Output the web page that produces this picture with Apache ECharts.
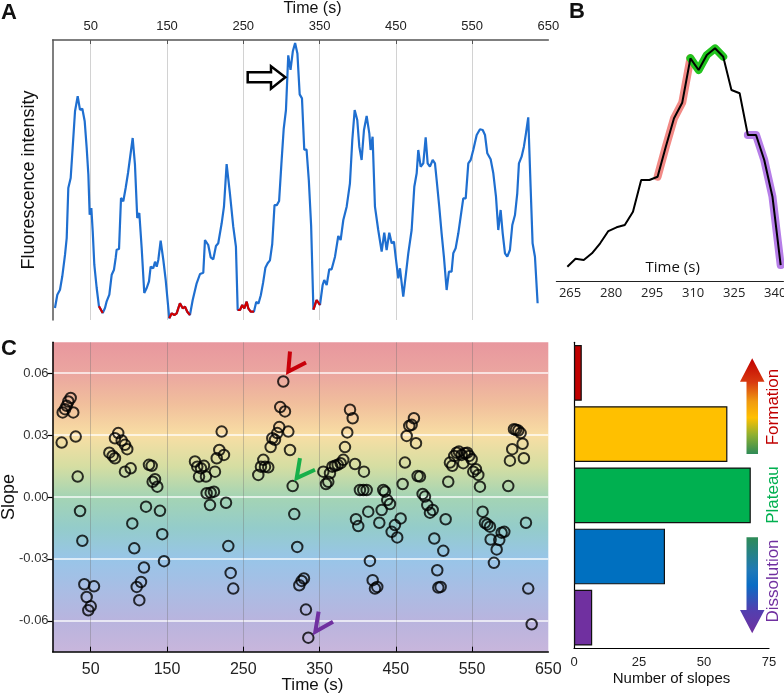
<!DOCTYPE html>
<html><head><meta charset="utf-8">
<script src="https://cdn.jsdelivr.net/npm/echarts@6/dist/echarts.min.js"></script>
<style>html,body{margin:0;padding:0;background:#fff}#c{width:784px;height:695px}</style>
</head><body><div id="c"></div>
<script>
// ---------- DATA ----------
const traceTime = [
3.1,6.2,9.7,12.7,16.3,18.5,20.6,23.7,26.3,29.4,32.9,35.9,39,42.1,44.7,46.9,48.6,50.8,52.6,54.7,57.8,60.8,63,65.7,68.7,70.9,74.4,77.5,80.5,82.7,84,87.1,89.7,92.7,95.8,98.9,101.5,105,108,111,113.7,116.8,120.2,123.4,126.4,
128.6,132,134.3,136.5,138.6,141.7,145.2,148.3,153,156.2,159.6,162.7,164.8,167,170.6,173.6,176.6,180.1,183.7,188.9,193.3,197.6,199.8,204.1,207.3,210.7,214.2,217.2,221.7,224.7,228.2,232.5,236.9,240.4,242.7,245.7,248.7,251.4,254.5,256.6,259.7,
264,267,270,273,276,279,282,285,288,291,294,297,300,303,306,309,312,315,318,321,324,327,330,333,336,339,342,
346.2,350.6,354.1,356.2,359.4,362.8,365.9,370.3,374.6,377.7,381.2,385.6,389.9,393,396.1,399.5,402.2,405.2,408.3,411.8,
415.3,417,419.6,422.7,427,431.5,434.9,438,441.5,444.6,447.6,449.8,453.3,455.5,459.8,463.4,466.4,470.8,474.3,477.4,
479.5,482.6,486.1,489.2,491.8,494.8,498.4,501.4,503.6,507,510.1,513.1,516.7,519.7,523.2,525.4,528.5,532,535.1,538.5,
541.7,545.1,548.2,551.6,556.1,560.4,564,567,570,574.4,577.9,581.4,584.4,587.5,590.2,593.2,596.2,599.7,602.8,606.3,
609.3,611.5,615,618,620.7,623.7,626.8,629.4,632.5,636];
const traceIntensity = [
12,25.3,30.3,43.7,65.3,82,132,142,172,208.7,223.7,210.3,211.3,198.7,172,145.3,105.3,112,88.7,55.3,32,13.7,13.7,7,12,18.7,25.3,45.3,50.3,62,70.3,71,122,118.7,132,147,145.3,182,155.3,102,107,72,27,32,38.7,
53.3,51.7,58.3,53.3,60,79.3,60,40,1.7,6.7,5,6.7,11.7,16.7,11.7,13.3,8.3,5,20,36.7,46,47.3,80,75,62.7,60.7,74,76.7,96.7,113.3,156,126.7,93.3,73.3,10,10,15,11.7,18.3,11.7,8.3,
8.3,18.1,16.5,24.8,37.1,52.2,56.8,59.6,76,114.9,114.9,119,155.9,190.8,210,264.6,250.2,268.7,276.9,266.6,225.6,221.6,170.3,170.3,139.5,94.4,10.4,
20,15,35,40,35,50.7,50.7,63.3,84,80,100,113.3,136.7,180,210,200,173.3,160,190,204,
186.7,170,183.3,113.3,90,68.3,87.3,70,87.3,76.7,78.3,63.3,41.7,51.7,23.3,46.7,66.7,90,133.3,146.7,
170,153.3,156.7,182.7,156.7,153.3,160,156.7,140,113.3,86.7,63.3,30,48.3,48.3,66.7,71.7,86.7,103.3,121.7,
121.7,156.7,160,170,185,190.7,190,185,166.7,160.7,146.7,123.3,90,110,86.7,66.7,63.3,70,95,105,
126.7,156.7,163.3,173.3,186.7,202.7,133.3,76.7,63.3,16.7];
// baseline (red) stretches of the trace, in seconds
const baselineRanges = [[60,66],[153,181],[242,264],[342,351]];
// panel B window and phases
const zoomWindow = [263, 343];
const phaseRanges = [[297,309],[309,321],[330,342]];
const phaseColors = ['#f28a86','#22c41e','#b67ee8'];

const slopeTime = [11.9,13.2,16.3,18.5,20.6,23.7,27.1,30.3,32.9,36,39,41.6,44.7,46.8,50,54.3,
74.4,78.8,81.8,81.8,86.1,90.6,94.9,97.9,94.9,102.4,104.5,107.1,110.3,113.7,115.9,119.8,122.5,126.4,129.9,131.2,134.3,137.3,140.8,143.8,146.1,
186.7,189.7,192,194.6,198.5,201.1,202,206.4,207.3,211.6,212.9,215.2,218.6,221.7,224.7,227.4,230.4,233.5,236.9,
269.7,273.2,276.3,278.5,282.8,285.9,288.1,291.6,294.6,297.2,298.5,302.5,304.7,309.1,311.3,314.8,316.9,320.8,323.5,326.6,329.6,332.2,335.3,
355,358.5,361.5,363.7,366.8,370.3,373.8,377.7,381.2,383.4,386.4,390,393.5,396.5,397.8,400.8,403,408.3,407.4,411.8,413.9,416.1,419.7,422.7,425.7,428.4,431.5,433.6,435.8,438.8,442.4,444.6,448.9,451.9,456.4,459,
462,464.3,467.7,470.8,473.8,476.5,478.7,481.7,485.2,488.3,491.3,494.8,498.4,500.5,504.4,505.8,508.8,512.3,515.4,518.8,521,524.1,526.7,529.8,532.8,536.3,
538.5,540.7,543.7,546.3,549.5,551.6,555.1,558.2,560.4,563.9,566.9,570,573.5,574.4,578.7,582.3,585.7,588.8,592.3,597.5,599.7,602.7,605,607.6,610.6,613.7,
616.3,618,620.7,623.7,628.2];
const slopeValue = [0.0264,0.041,0.0426,0.0442,0.0463,0.048,0.041,0.0293,0.0099,-0.0068,-0.0212,-0.0423,-0.0485,-0.0549,-0.053,-0.0433,
0.0215,0.0199,0.0188,0.0285,0.031,0.0274,0.0253,0.0232,0.0123,0.0139,-0.0128,-0.0249,-0.0436,-0.05,-0.0412,-0.0342,-0.0047,0.0156,0.0151,0.0074,0.0086,0.005,-0.0067,-0.018,-0.0311,
0.0172,0.0147,0.0099,0.0139,0.0151,0.0099,0.0018,-0.0039,0.0021,0.0026,0.0123,0.0188,0.0228,0.0317,0.0204,-0.0028,-0.0238,-0.0368,-0.0444,
0.0107,0.0147,0.018,0.0147,0.0144,0.0242,0.0285,0.0277,0.031,0.0339,0.0436,0.056,0.0415,0.0317,0.0228,0.0053,-0.0083,-0.0242,-0.0428,-0.0407,-0.0395,-0.0546,-0.0682,
0.0123,0.0063,0.0074,0.0115,0.0147,0.0151,0.0156,0.0164,0.018,0.0242,0.0313,0.0423,0.0382,0.016,-0.0108,-0.0141,0.0034,0.0123,0.0034,0.0034,-0.0071,-0.031,-0.0403,-0.0444,-0.0436,-0.0125,-0.0063,0.0034,0.0026,-0.0015,-0.0034,-0.0169,-0.0136,-0.0196,-0.0104,0.0063,
0.0167,0.0296,0.0345,0.035,0.0382,0.0261,0.0102,0.0099,0.0015,0.0002,-0.0039,-0.0076,-0.0063,-0.0201,-0.0355,-0.0439,-0.0436,-0.0261,-0.0108,0.0074,0.0167,0.0151,0.0199,0.0215,0.022,0.0204,
0.0164,0.0212,0.0215,0.0199,0.0183,0.0123,0.0135,0.0107,0.005,-0.0071,-0.0125,-0.0133,-0.0144,-0.0206,-0.0319,-0.0254,-0.0209,-0.0173,-0.0169,0.0053,0.0176,0.0232,0.0329,0.0326,0.0322,0.031,
0.0258,0.0188,-0.0125,-0.0444,-0.0617];
// marked slopes in panel C (formation, plateau, dissolution)
const markedTimes = [302.5, 314.8, 335.3];
const markedColors = ['#c8000a','#17b04a','#7030a0'];

const binLabels = ['0.06','0.03','0.00','-0.03','-0.06'];
const binCounts = [3, 59, 68, 35, 7];
const binColors = ['#c00000','#ffc000','#00b050','#0070c0','#7030a0'];

const timeTicks = [50,150,250,350,450,550];
const timeLabels = [50,150,250,350,450,550,650];
const zoomTicks = [265,280,295,310,325,340];
const slopeTicks = [-0.06,-0.03,0,0.03,0.06];

// ---------- BUILD ----------
const pairs = (a,b) => { const o=[]; for (let i=0;i<traceTime.length;i++){ if(traceTime[i]>=a && traceTime[i]<=b) o.push([traceTime[i],traceIntensity[i]]);} return o; };
const SANS = 'Liberation Sans, Arial, sans-serif';
const SEG = 'Open Sans, Noto Sans, sans-serif';

const series = [];
series.push({type:'line', xAxisIndex:0, yAxisIndex:0, data: pairs(0,700), symbol:'none', lineStyle:{color:'#1f6fd0', width:2.2}, z:3});
baselineRanges.forEach(r => series.push({type:'line', xAxisIndex:0, yAxisIndex:0, data: pairs(r[0],r[1]), symbol:'none', lineStyle:{color:'#d10000', width:2.2}, z:4}));
phaseRanges.forEach((r,k) => series.push({type:'line', xAxisIndex:1, yAxisIndex:1, data: pairs(r[0],r[1]), symbol:'none', lineStyle:{color:phaseColors[k], width:8, cap:'round', join:'round'}, z:3}));
series.push({type:'line', xAxisIndex:1, yAxisIndex:1, data: pairs(zoomWindow[0],zoomWindow[1]), symbol:'none', lineStyle:{color:'#000', width:2}, z:5});
const scatterIndex = series.length;
series.push({type:'scatter', xAxisIndex:2, yAxisIndex:2, data: slopeTime.map((t,i)=>[t,slopeValue[i]]), symbol:'circle', symbolSize:10.5,
  itemStyle:{color:'rgba(0,0,0,0)', borderColor:'#000', borderWidth:2}, z:5});
series.push({type:'bar', xAxisIndex:3, yAxisIndex:3, data: binCounts.map((v,i)=>({value:v, itemStyle:{color:binColors[i]}})),
  barCategoryGap:'9%', itemStyle:{borderColor:'#111', borderWidth:1.2}, z:3});

const bg = {type:'linear', x:0, y:0, x2:0, y2:1, colorStops:[
  {offset:0, color:'#e8979e'},{offset:0.1, color:'#eba6a0'},{offset:0.2, color:'#f1bf9c'},{offset:0.3, color:'#f8dea4'},
  {offset:0.4, color:'#d6dea2'},{offset:0.5, color:'#a4d4b4'},{offset:0.6, color:'#94ccca'},{offset:0.7, color:'#98c5e8'},
  {offset:0.8, color:'#a9bde4'},{offset:0.9, color:'#b9b4de'},{offset:1, color:'#c8b6dc'}]};

const option = {
  animation:false,
  backgroundColor:'#fff',
  grid:[
    {left:52.6, top:40, width:495.7, height:280, outerBoundsMode:'none'},
    {left:556.4, top:45.8, width:227, height:235, outerBoundsMode:'none'},
    {left:52.6, top:342.3, width:495.7, height:309.4, show:true, backgroundColor:bg, borderWidth:0, outerBoundsMode:'none'},
    {left:574, top:342.3, width:195, height:306, outerBoundsMode:'none'}
  ],
  xAxis:[
    {gridIndex:0, type:'value', min:0, max:650, position:'top', nameMoveOverlap:false,
      axisLine:{show:true, onZero:false, lineStyle:{color:'#555', width:1.5}},
      axisTick:{show:true, inside:true, length:4, customValues:timeTicks, lineStyle:{color:'#555'}},
      axisLabel:{customValues:timeLabels, fontSize:13, color:'#222', fontFamily:SANS, margin:7},
      splitLine:{show:true, lineStyle:{color:'#d2d2d2', width:1}},
      name:'Time (s)', nameLocation:'middle', nameGap:23, nameTextStyle:{fontSize:16, color:'#111', fontFamily:SANS, padding:[0,0,0,24]}},
    {gridIndex:1, type:'value', min:260, max:343,
      axisLine:{show:true, onZero:false, lineStyle:{color:'#222', width:1.2}},
      axisTick:{show:false, customValues:zoomTicks},
      axisLabel:{customValues:zoomTicks, fontSize:13, color:'#222', fontFamily:SEG, margin:6},
      splitLine:{show:false}},
    {gridIndex:2, type:'value', min:0, max:650, nameMoveOverlap:false,
      axisLine:{show:true, onZero:false, lineStyle:{color:'#000', width:1.5}},
      axisTick:{show:true, inside:true, length:5, customValues:timeTicks, lineStyle:{color:'#000'}},
      axisLabel:{customValues:timeLabels, fontSize:16, color:'#222', fontFamily:SANS, margin:10},
      splitLine:{show:true, lineStyle:{color:'rgba(110,110,110,0.35)', width:1}},
      name:'Time (s)', nameLocation:'middle', nameGap:25, nameTextStyle:{fontSize:17, color:'#111', fontFamily:SANS, padding:[0,0,0,24]}},
    {gridIndex:3, type:'value', min:0, max:75, interval:25, nameMoveOverlap:false,
      axisLine:{show:true, onZero:false, lineStyle:{color:'#000', width:1.2}},
      axisTick:{show:false},
      axisLabel:{fontSize:13, color:'#222', fontFamily:SANS, margin:8},
      splitLine:{show:false},
      name:'Number of slopes', nameLocation:'middle', nameGap:23, nameTextStyle:{fontSize:15, color:'#111', fontFamily:SANS}}
  ],
  yAxis:[
    {gridIndex:0, type:'value', min:0, max:280, nameMoveOverlap:false,
      axisLine:{show:true, onZero:false, lineStyle:{color:'#555', width:1.5}}, axisTick:{show:false}, axisLabel:{show:false}, splitLine:{show:false},
      name:'Fluorescence intensity', nameLocation:'middle', nameGap:15, nameTextStyle:{fontSize:18, color:'#111', fontFamily:SANS}},
    {gridIndex:1, type:'value', min:-9, max:280, show:false},
    {gridIndex:2, type:'value', min:-0.075, max:0.075, nameMoveOverlap:false,
      axisLine:{show:true, onZero:false, lineStyle:{color:'#000', width:1.5}},
      axisTick:{show:true, length:5, customValues:slopeTicks, lineStyle:{color:'#000', width:1.2}},
      axisLabel:{customValues:slopeTicks, formatter:v=>v.toFixed(2), fontSize:13, color:'#333', fontFamily:SANS, margin:4},
      splitLine:{show:true, lineStyle:{color:'rgba(255,255,255,0.9)', width:1.5}},
      name:'Slope', nameLocation:'middle', nameGap:35, nameTextStyle:{fontSize:18, color:'#111', fontFamily:SANS}},
    {gridIndex:3, type:'category', data:binLabels, inverse:true,
      axisLine:{show:true, onZero:false, lineStyle:{color:'#000', width:1.2}},
      axisTick:{show:true, inside:true, length:4, alignWithLabel:true, lineStyle:{color:'#000'}},
      axisLabel:{show:false}, splitLine:{show:false}}
  ],
  series: series,
  graphic:{elements:[
    {id:'lA', type:'text', left:1, top:2, style:{text:'A', font:'bold 22px '+SANS, fill:'#111'}},
    {id:'lB', type:'text', left:569, top:1, style:{text:'B', font:'bold 22px '+SANS, fill:'#111'}},
    {id:'lC', type:'text', left:1, top:338, style:{text:'C', font:'bold 22px '+SANS, fill:'#111'}},
    {id:'bT', type:'text', x:672.7, y:268, style:{text:'Time (s)', font:'15px '+SEG, fill:'#111', textAlign:'center', textVerticalAlign:'middle'}},
    {id:'arrA', type:'polygon', shape:{points:[[247.7,72.3],[271,72.3],[271,66.3],[285.3,77.3],[271,88.7],[271,82.3],[247.7,82.3]]},
      style:{fill:'#fff', stroke:'#000', lineWidth:2.5}, z:10},
    {id:'arrF', type:'polygon', shape:{points:[[746.5,454],[758,454],[758,381.7],[764.5,381.7],[752.2,358.3],[740,381.7],[746.5,381.7]]},
      style:{fill:{type:'linear', x:0, y:0, x2:0, y2:1, colorStops:[{offset:0,color:'#c00000'},{offset:0.25,color:'#d83a10'},{offset:0.45,color:'#f09a10'},{offset:0.62,color:'#ffc000'},{offset:0.8,color:'#8fb030'},{offset:1,color:'#2e8b57'}]}}},
    {id:'arrD', type:'polygon', shape:{points:[[746.5,537.3],[758,537.3],[758,610],[764.5,610],[752.2,633.3],[740,610],[746.5,610]]},
      style:{fill:{type:'linear', x:0, y:0, x2:0, y2:1, colorStops:[{offset:0,color:'#2e8b57'},{offset:0.35,color:'#1e78b8'},{offset:0.5,color:'#0a6cc4'},{offset:0.75,color:'#5040b0'},{offset:1,color:'#7030a0'}]}}},
    {id:'tF', type:'text', x:773, y:407, rotation:Math.PI/2, style:{text:'Formation', font:'17px '+SANS, fill:'#c00000', textAlign:'center', textVerticalAlign:'middle'}},
    {id:'tP', type:'text', x:773, y:495, rotation:Math.PI/2, style:{text:'Plateau', font:'17px '+SANS, fill:'#00b050', textAlign:'center', textVerticalAlign:'middle'}},
    {id:'tD', type:'text', x:773, y:581, rotation:Math.PI/2, style:{text:'Dissolution', font:'17px '+SANS, fill:'#7030a0', textAlign:'center', textVerticalAlign:'middle'}}
  ]}
};

const chart = echarts.init(document.getElementById('c'), null, {renderer:'canvas'});
chart.setOption(option);

// chevrons pointing at the marked slopes
const tipOff = [[5,-10],[4,-8],[7,-6]];
const armA = [[1.7,-20],[3.3,-20],[3.3,-20]];
const armB = [[17.7,-9],[18.3,-8.3],[17.7,-10]];
const chev = markedTimes.map((t,k) => {
  const i = slopeTime.indexOf(t);
  const p = chart.convertToPixel({seriesIndex:scatterIndex}, [slopeTime[i], slopeValue[i]]);
  const tip = [p[0]+tipOff[k][0], p[1]+tipOff[k][1]];
  return {id:'chev'+k, type:'polyline', z:20,
    shape:{points:[[tip[0]+armA[k][0], tip[1]+armA[k][1]], tip, [tip[0]+armB[k][0], tip[1]+armB[k][1]]]},
    style:{stroke:markedColors[k], lineWidth:4, fill:null, lineJoin:'miter'}};
});
chart.setOption({graphic:{elements:chev}});
</script>
</body></html>
